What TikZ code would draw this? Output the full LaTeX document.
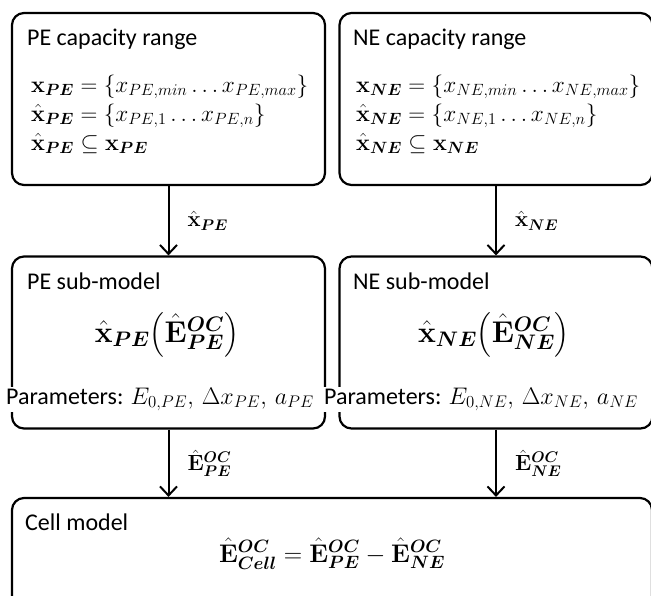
\RequirePackage{fix-cm}
\documentclass[tikz,border=0pt]{standalone}
\usepackage{amsmath}
\usepackage{bm}
\usepackage[no-math]{fontspec}
\setmainfont{Carlito}
\usetikzlibrary{arrows.meta}

\tikzstyle{block}=[draw,line width=2.2pt,rounded corners=12pt,minimum width=313pt,minimum height=172pt,inner sep=0pt]
\tikzstyle{heading}=[anchor=base west,inner sep=0pt,font=\fontsize{24}{28}\selectfont]
\tikzstyle{formula}=[anchor=base west,inner sep=0pt,font=\fontsize{23.3}{26}\selectfont]
\tikzstyle{bigformula}=[anchor=base,inner sep=0pt,font=\fontsize{30}{34}\selectfont]
\tikzstyle{label}=[formula,midway,anchor=west,xshift=18pt,font=\fontsize{22}{26}\selectfont]
\tikzstyle{params}=[heading,fill=white,inner sep=1pt]
\tikzstyle{flow}=[-{Straight Barb[length=9pt,width=17pt]},line width=2pt]

\begin{document}
\begin{tikzpicture}[x=1pt,y=-1pt]
\useasboundingbox (0,0) rectangle (651,595);
% top row
\node[block] (perng) at (168.5,99) {};
\node[heading] (perngtitle) at (27,45) {PE capacity range};
\node[formula] (perngeqa) at (31,92) {$\mathbf{x}_{\bm{PE}} = \left\{x_{PE,min} \ldots x_{PE,max}\right\}$};
\node[formula] (perngeqb) at (31,121) {$\hat{\mathbf{x}}_{\bm{PE}} = \left\{x_{PE,1} \ldots x_{PE,n}\right\}$};
\node[formula] (perngeqc) at (31,150) {$\hat{\mathbf{x}}_{\bm{PE}} \subseteq \mathbf{x}_{\bm{PE}}$};
\node[block] (nerng) at (496,99) {};
\node[heading] (nerngtitle) at (353,45) {NE capacity range};
\node[formula] (nerngeqa) at (356,92) {$\mathbf{x}_{\bm{NE}} = \left\{x_{NE,min} \ldots x_{NE,max}\right\}$};
\node[formula] (nerngeqb) at (356,121) {$\hat{\mathbf{x}}_{\bm{NE}} = \left\{x_{NE,1} \ldots x_{NE,n}\right\}$};
\node[formula] (nerngeqc) at (356,150) {$\hat{\mathbf{x}}_{\bm{NE}} \subseteq \mathbf{x}_{\bm{NE}}$};

% middle row
\node[block] (pesub) at (168.5,342.5) {};
\node[heading] (pesubtitle) at (27,289) {PE sub-model};
\node[bigformula] (pesubeq) at (167,342) {$\hat{\mathbf{x}}_{\bm{PE}}\bigl(\hat{\mathbf{E}}^{\bm{OC}}_{\bm{PE}}\bigr)$};
\node[block] (nesub) at (496,342.5) {};
\node[heading] (nesubtitle) at (353,289) {NE sub-model};
\node[bigformula] (nesubeq) at (494,342) {$\hat{\mathbf{x}}_{\bm{NE}}\bigl(\hat{\mathbf{E}}^{\bm{OC}}_{\bm{NE}}\bigr)$};

% bottom row
\node[block,minimum width=640pt,minimum height=122pt] (cell) at (332,559) {};
\node[heading] (celltitle) at (25,530) {Cell model};
\node[bigformula,font=\fontsize{25.5}{30}\selectfont] (celleq) at (332,562) {$\hat{\mathbf{E}}^{\bm{OC}}_{\bm{Cell}} = \hat{\mathbf{E}}^{\bm{OC}}_{\bm{PE}} - \hat{\mathbf{E}}^{\bm{OC}}_{\bm{NE}}$};

% parameters lines sit over the left borders
\node[params] (pepar) at (5,404) {Parameters: $E_{0,PE},\, \Delta x_{PE},\, a_{PE}$};
\node[params] (nepar) at (323,404) {Parameters: $E_{0,NE},\, \Delta x_{NE},\, a_{NE}$};

% connectors
\draw[flow] (perng.south) -- (pesub.north)
    node[label] (pelabel) {$\hat{\mathbf{x}}_{\bm{PE}}$};
\draw[flow] (nerng.south) -- (nesub.north)
    node[label] (nelabel) {$\hat{\mathbf{x}}_{\bm{NE}}$};
\draw[flow] (pesub.south) -- (pesub.south |- cell.north)
    node[label] (peoc) {$\hat{\mathbf{E}}^{\bm{OC}}_{\bm{PE}}$};
\draw[flow] (nesub.south) -- (nesub.south |- cell.north)
    node[label] (neoc) {$\hat{\mathbf{E}}^{\bm{OC}}_{\bm{NE}}$};
\end{tikzpicture}
\end{document}
